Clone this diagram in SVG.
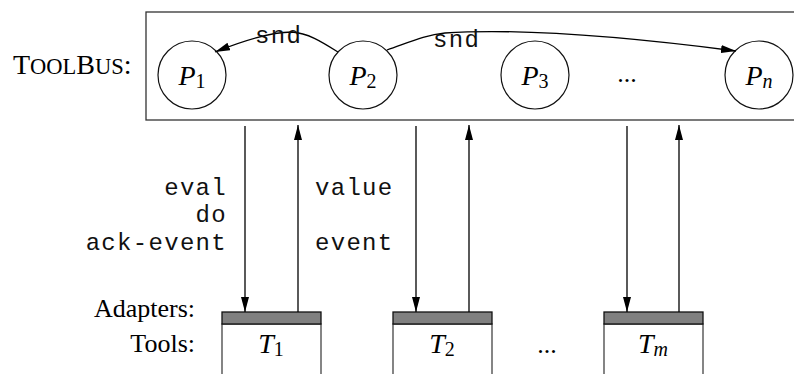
<svg xmlns="http://www.w3.org/2000/svg" width="794" height="374" viewBox="0 0 794 374">
<defs>
<marker id="ah" markerUnits="userSpaceOnUse" markerWidth="16" markerHeight="9" refX="15" refY="4" orient="auto">
<path d="M0,0 L15,4 L0,8 z" fill="#000"/>
</marker>
<style>
.frame{fill:none;stroke:#333;stroke-width:1.3}
.node{fill:#fff;stroke:#111;stroke-width:1.2}
.conn{fill:none;stroke:#000;stroke-width:1.3}
.adp{fill:#808080;stroke:#111;stroke-width:1.3}
.tool{fill:#fff;stroke:#444;stroke-width:1.3}
.mono{font-family:"Liberation Mono",monospace;font-size:24px;letter-spacing:1.3px;fill:#111}
.serif{font-family:"Liberation Serif",serif;font-size:26px;fill:#000}
.math{font-family:"Liberation Serif",serif;font-size:28px;font-style:italic;fill:#000}
.sub{font-size:20px;font-style:normal}
.subi{font-size:20px;font-style:italic}
</style>
</defs>
<rect fill="#fff" width="794" height="374"/>

<text class="serif" x="13" y="74"><tspan font-size="28">T</tspan><tspan font-size="22.5">OOL</tspan><tspan font-size="28">B</tspan><tspan font-size="22.5">US</tspan><tspan font-size="28">:</tspan></text>

<g id="toolbus">
<rect class="frame" x="146" y="12" width="660" height="108"/>
</g>

<g id="p1"><circle class="node" cx="192" cy="75" r="34"/><text class="math" x="192" y="85" text-anchor="middle">P<tspan class="sub" dy="3">1</tspan></text></g>
<g id="p2"><circle class="node" cx="363" cy="75" r="34"/><text class="math" x="363" y="85" text-anchor="middle">P<tspan class="sub" dy="3">2</tspan></text></g>
<g id="p3"><circle class="node" cx="535" cy="75" r="34"/><text class="math" x="535" y="85" text-anchor="middle">P<tspan class="sub" dy="3">3</tspan></text></g>
<text class="serif" x="627" y="82" text-anchor="middle" font-size="22">...</text>
<g id="pn"><circle class="node" cx="759" cy="75" r="34"/><text class="math" x="759" y="85" text-anchor="middle">P<tspan class="subi" dy="3">n</tspan></text></g>

<g id="t1"><rect class="tool" x="222" y="324" width="99" height="60"/><rect class="adp" x="222" y="312" width="99" height="12"/><text class="math" x="271" y="353" text-anchor="middle">T<tspan class="sub" dy="3">1</tspan></text></g>
<g id="t2"><rect class="tool" x="393" y="324" width="99" height="60"/><rect class="adp" x="393" y="312" width="99" height="12"/><text class="math" x="442" y="353" text-anchor="middle">T<tspan class="sub" dy="3">2</tspan></text></g>
<text class="serif" x="547" y="353" text-anchor="middle" font-size="22">...</text>
<g id="tm"><rect class="tool" x="604" y="324" width="99" height="60"/><rect class="adp" x="604" y="312" width="99" height="12"/><text class="math" x="653" y="353" text-anchor="middle">T<tspan class="subi" dy="3">m</tspan></text></g>

<text class="serif" x="195" y="317" text-anchor="end">Adapters:</text>
<text class="serif" x="195" y="352" text-anchor="end">Tools:</text>

<g id="connectors">
<path class="conn" d="M338,52 C322,42 308,33 292,32 C272,32 245,40 215,52" marker-end="url(#ah)"/>
<path class="conn" d="M387,50 C410,42 425,35 445,33 C520,28 620,36 736,51" marker-end="url(#ah)"/>
<line class="conn" x1="245" y1="126" x2="245" y2="312" marker-end="url(#ah)"/>
<line class="conn" x1="298" y1="312" x2="298" y2="125" marker-end="url(#ah)"/>
<line class="conn" x1="416" y1="126" x2="416" y2="312" marker-end="url(#ah)"/>
<line class="conn" x1="469" y1="312" x2="469" y2="125" marker-end="url(#ah)"/>
<line class="conn" x1="627" y1="126" x2="627" y2="312" marker-end="url(#ah)"/>
<line class="conn" x1="679" y1="312" x2="679" y2="125" marker-end="url(#ah)"/>
</g>

<text class="mono" x="255" y="43">snd</text>
<text class="mono" x="433" y="47">snd</text>
<text class="mono" x="227" y="195" text-anchor="end">eval</text>
<text class="mono" x="227" y="222" text-anchor="end">do</text>
<text class="mono" x="227" y="250" text-anchor="end">ack-event</text>
<text class="mono" x="315" y="195">value</text>
<text class="mono" x="315" y="250">event</text>
</svg>
